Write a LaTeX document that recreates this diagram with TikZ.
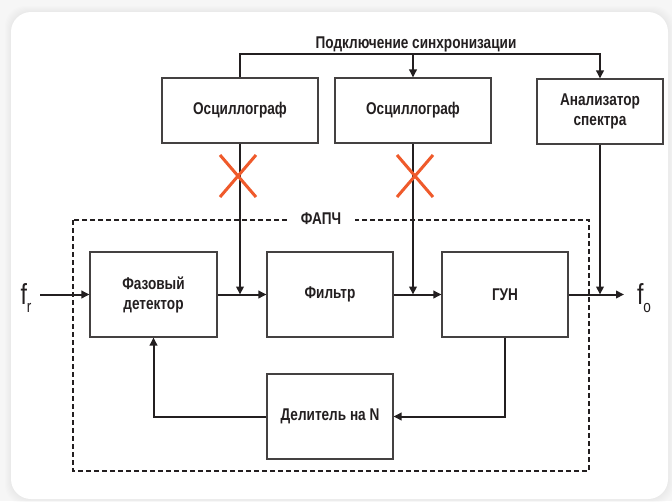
\documentclass[tikz,border=0pt]{standalone}
\usepackage{fontspec}
\setmainfont{Liberation Sans}[FakeStretch=0.8]
\usetikzlibrary{arrows.meta,calc}
\definecolor{ink}{HTML}{231F20}
\definecolor{xred}{HTML}{EF5A2B}
\definecolor{bgout}{HTML}{F6F6F6}
\begin{document}
\begin{tikzpicture}[x=1pt,y=-1pt,
  box/.style={draw=ink!85, line width=1.1pt, fill=white, inner sep=0pt, align=center,
    font=\fontsize{17}{20}\selectfont\bfseries, text=ink},
  lbl/.style={font=\fontsize{17}{20}\selectfont\bfseries, text=ink, inner sep=0pt},
  conn/.style={draw=ink, line width=2pt},
  arr/.style={conn, -{Triangle[length=8pt,width=7.5pt]}},
  xmark/.style={draw=xred, line width=3pt},
  fbig/.style={font=\fontsize{29}{29}\selectfont, text=ink, inner sep=0pt}
]
\useasboundingbox (0,0) rectangle (672,501);
\fill[bgout] (0,0) rectangle (672,501);
\foreach \i in {1,...,6}{
  \fill[black, opacity=0.006, rounded corners=20pt] (11-\i,12-\i) rectangle (668+\i,499+\i);
}
\fill[white, rounded corners=20pt] (11,12) rectangle (668,499);

% boxes
\node[box, minimum width=156pt, minimum height=65pt] (o1) at (240,110.5) {Осциллограф};
\node[box, minimum width=156pt, minimum height=65pt] (o2) at (413,110.5) {Осциллограф};
\node[box, minimum width=126pt, minimum height=65pt] (o3) at (600,111.5) {Анализатор\\спектра};

\node[lbl] (title) at (416,44) {Подключение синхронизации};
\coordinate (bus) at (413,54);

% dashed frame
\draw[ink, line width=1.5pt, dash pattern=on 5pt off 3pt] (73,220) rectangle (589,471);
\node[lbl, fill=white, inner xsep=14pt, inner ysep=3pt] (fapch) at (321,219) {ФАПЧ};

\node[box, minimum width=127pt, minimum height=85pt] (pd) at (153.5,294.5) {Фазовый\\детектор};
\node[box, minimum width=126pt, minimum height=85pt] (filt) at (330,294.5) {Фильтр};
\node[box, minimum width=126pt, minimum height=85pt] (gun) at (505,294.5) {ГУН};
\node[box, minimum width=126pt, minimum height=85pt] (div) at (330,416.5) {Делитель на N};

% sync bus
\draw[arr] (o1.north) -- (o1.north |- bus) -| (o3.north);
\draw[arr] (bus) -- (o2.north);

% probes
\draw[arr] (o1.south) -- (o1.south |- pd.east);
\draw[arr] (o2.south) -- (o2.south |- pd.east);
\draw[arr] (o3.south) -- (o3.south |- pd.east);

% X marks
\draw[xmark] (220,155) -- (256,197) (220,197) -- (256,155);
\draw[xmark] (397,155) -- (433,197) (397,197) -- (433,155);

% main chain
\coordinate (fin) at (40,294.5);
\coordinate (fout) at (624,294.5);
\draw[arr] (fin) -- (pd.west);
\draw[arr] (pd.east) -- (filt.west);
\draw[arr] (filt.east) -- (gun.west);
\draw[arr] (gun.east) -- (fout);

% feedback
\draw[arr] (gun.south) |- (div.east);
\draw[arr] (div.west) -| (pd.south);

% f labels
\node[fbig] (fr) at (26,298) {f\raisebox{-8pt}{\fontsize{17}{17}\selectfont r}};
\node[fbig] (fo) at (644,298) {f\raisebox{-8pt}{\fontsize{17}{17}\selectfont o}};
\end{tikzpicture}
\end{document}
